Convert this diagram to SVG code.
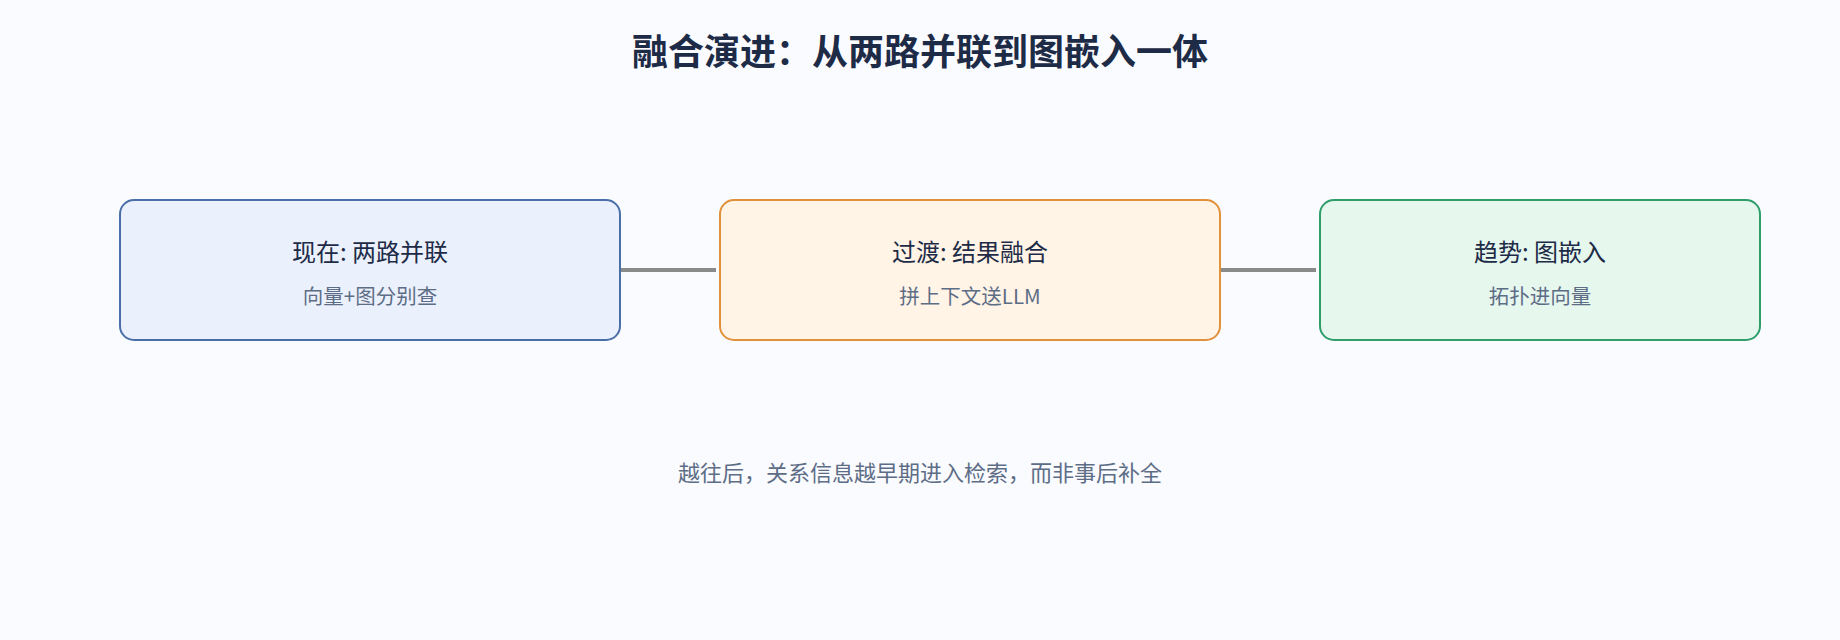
<svg xmlns="http://www.w3.org/2000/svg" width="1840" height="640" viewBox="0 0 1840 640">
  <style>
    .bg { fill: #f9fbff; }
    .title { font-family: "Noto Sans CJK SC", "Noto Sans", sans-serif; font-size: 36px; font-weight: 700; fill: #1e2b47; text-anchor: middle; }
    .ntitle { font-family: "Noto Sans CJK SC", "Noto Sans", sans-serif; font-size: 24px; fill: #1e2b47; text-anchor: middle; }
    .nsub { font-family: "Noto Sans CJK SC", "Noto Sans", sans-serif; font-size: 20.5px; fill: #5e6d86; text-anchor: middle; }
    .note { font-family: "Noto Sans CJK SC", "Noto Sans", sans-serif; font-size: 22px; fill: #5e6d86; text-anchor: middle; }
    .box { stroke-width: 2; }
    .b1 { fill: #eaf1fc; stroke: #4a6fa8; }
    .b2 { fill: #fff4e6; stroke: #e0913a; }
    .b3 { fill: #e6f7ee; stroke: #2f9e6a; }
    .conn { stroke: #8a8a8a; stroke-width: 4; fill: none; }
  </style>
  <rect class="bg" x="0" y="0" width="1840" height="640"/>
  <text class="title" x="920" y="65">融合演进：从两路并联到图嵌入一体</text>
  <g id="connectors">
    <line class="conn" x1="620" y1="270" x2="716" y2="270"/>
    <line class="conn" x1="1220" y1="270" x2="1316" y2="270"/>
  </g>
  <g id="node-now">
    <rect class="box b1" x="120" y="200" width="500" height="140" rx="14" ry="14"/>
    <text class="ntitle" x="370" y="261">现在: 两路并联</text>
    <text class="nsub" x="370" y="304">向量+图分别查</text>
  </g>
  <g id="node-transition">
    <rect class="box b2" x="720" y="200" width="500" height="140" rx="14" ry="14"/>
    <text class="ntitle" x="970" y="261">过渡: 结果融合</text>
    <text class="nsub" x="970" y="304">拼上下文送LLM</text>
  </g>
  <g id="node-trend">
    <rect class="box b3" x="1320" y="200" width="440" height="140" rx="14" ry="14"/>
    <text class="ntitle" x="1540" y="261">趋势: 图嵌入</text>
    <text class="nsub" x="1540" y="304">拓扑进向量</text>
  </g>
  <text class="note" x="920" y="481">越往后，关系信息越早期进入检索，而非事后补全</text>
</svg>
